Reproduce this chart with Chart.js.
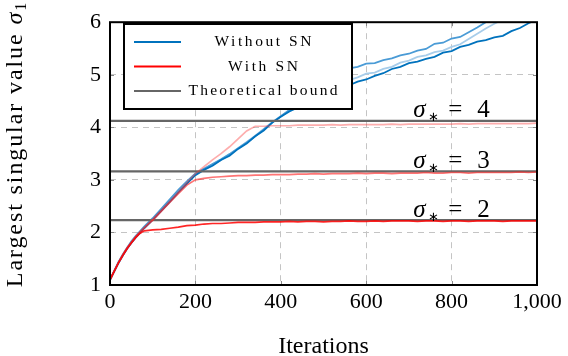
<!DOCTYPE html>
<html>
<head>
<meta charset="utf-8">
<script src="https://cdn.jsdelivr.net/npm/chart.js@4.4.1/dist/chart.umd.min.js"></script>
<style>
  html, body { margin: 0; padding: 0; background: #fff; }
  #wrap { width: 568px; height: 356px; }
</style>
</head>
<body>
<div id="wrap"><canvas id="c" width="568" height="356"></canvas></div>
<script>
const iters = [0,10,20,30,40,50,60,70,80,90,100,
  120,140,160,180,200,220,240,260,280,300,320,340,360,380,400,
  420,440,460,480,500,520,540,560,580,600,620,640,660,680,700,
  720,740,760,780,800,820,840,860,880,900,920,940,960,980,1000];

// Without SN (three runs, sigma* = 2,3,4)
const blueDark = [1.10,1.26,1.42,1.56,1.69,1.80,1.90,1.99,2.08,2.16,2.24,
  2.41,2.58,2.76,2.93,3.09,3.19,3.27,3.38,3.46,3.59,3.69,3.83,3.94,4.09,4.20,
  4.30,4.38,4.46,4.53,4.60,4.67,4.74,4.80,4.87,4.91,4.98,5.03,5.11,5.15,5.22,
  5.25,5.30,5.34,5.42,5.45,5.53,5.57,5.63,5.66,5.71,5.74,5.83,5.89,5.98,6.05];
const blueMid = [1.10,1.27,1.44,1.58,1.71,1.83,1.93,2.02,2.11,2.19,2.27,
  2.45,2.63,2.81,2.97,3.12,3.21,3.30,3.39,3.49,3.60,3.71,3.83,3.96,4.09,4.21,
  4.33,4.46,4.60,4.73,4.85,4.95,5.05,5.12,5.15,5.21,5.22,5.28,5.31,5.37,5.40,
  5.46,5.49,5.59,5.61,5.69,5.72,5.81,5.90,6.00,6.08,6.12,6.16,6.20,6.24,6.28];
const blueLight = [1.10,1.27,1.43,1.57,1.70,1.81,1.91,2.00,2.09,2.17,2.25,
  2.42,2.60,2.78,2.95,3.10,3.20,3.29,3.38,3.49,3.60,3.72,3.84,3.97,4.10,4.21,
  4.32,4.42,4.50,4.58,4.66,4.74,4.82,4.90,4.95,5.02,5.04,5.11,5.15,5.23,5.27,
  5.34,5.37,5.43,5.46,5.53,5.58,5.68,5.78,5.88,5.97,6.05,6.10,6.14,6.18,6.22];

// With SN
const red2 = [1.10,1.26,1.42,1.56,1.69,1.80,1.90,1.98,2.03,2.04,2.05,
  2.06,2.08,2.10,2.13,2.14,2.16,2.17,2.17,2.18,2.19,2.19,2.19,2.20,2.20,2.20,
  2.21,2.20,2.21,2.21,2.20,2.21,2.21,2.22,2.21,2.21,2.22,2.21,2.22,2.22,2.22,
  2.21,2.22,2.22,2.21,2.22,2.22,2.21,2.22,2.22,2.22,2.21,2.22,2.22,2.22,2.22];
const red3 = [1.10,1.27,1.43,1.57,1.70,1.81,1.91,2.00,2.08,2.16,2.23,
  2.40,2.57,2.74,2.90,3.00,3.03,3.05,3.06,3.07,3.08,3.08,3.09,3.09,3.10,3.10,
  3.10,3.11,3.11,3.12,3.11,3.12,3.12,3.12,3.13,3.12,3.13,3.13,3.12,3.13,3.13,
  3.13,3.14,3.13,3.13,3.14,3.14,3.13,3.14,3.14,3.14,3.14,3.14,3.15,3.14,3.15];
const red4 = [1.10,1.27,1.43,1.58,1.71,1.82,1.92,2.01,2.09,2.17,2.25,
  2.42,2.59,2.77,2.95,3.12,3.25,3.38,3.50,3.63,3.78,3.93,4.02,4.02,4.03,4.03,
  4.03,4.04,4.04,4.04,4.04,4.05,4.04,4.05,4.05,4.05,4.05,4.05,4.06,4.05,4.06,
  4.06,4.06,4.06,4.06,4.06,4.07,4.06,4.07,4.07,4.07,4.07,4.07,4.07,4.07,4.08];

// theoretical bounds and their labels
const sigmaStar = [2, 3, 4];
const bounds = [2.236, 3.162, 4.123];

const xTicks = [0, 200, 400, 600, 800, 1000];
const yTicks = [1, 2, 3, 4, 5, 6];

const SERIF = "'Liberation Serif', 'Times New Roman', serif";

function pts(arr) {
  return iters.map((x, i) => ({ x: x, y: arr[i] }));
}
function line(data, color, width) {
  return { data: data, borderColor: color, borderWidth: width, pointRadius: 0, tension: 0, fill: false };
}

let datasets = [
  line(pts(red2), 'rgba(255,0,0,0.85)', 1.7),
  line(pts(red3), 'rgba(255,30,30,0.62)', 1.7),
  line(pts(red4), 'rgba(250,60,60,0.42)', 1.7),
];
bounds.forEach(b => {
  datasets.push(line([{ x: 0, y: b }, { x: 1000, y: b }], '#666666', 2.2));
});
datasets.push(line(pts(blueDark), '#0072bd', 1.8));
datasets.push(line(pts(blueMid), '#4a9bd6', 1.8));
datasets.push(line(pts(blueLight), '#a8cdea', 1.8));

// frame, inner ticks, legend, annotations, y title
const decor = {
  id: 'decor',
  afterDatasetsDraw(chart) {
    const ctx = chart.ctx;
    const a = chart.chartArea;
    const xs = chart.scales.x, ys = chart.scales.y;
    ctx.save();

    // inner tick marks
    ctx.strokeStyle = '#888';
    ctx.lineWidth = 1;
    ctx.beginPath();
    xTicks.forEach(v => {
      const px = Math.round(xs.getPixelForValue(v)) + 0.5;
      ctx.moveTo(px, a.bottom); ctx.lineTo(px, a.bottom - 4);
      ctx.moveTo(px, a.top); ctx.lineTo(px, a.top + 4);
    });
    yTicks.forEach(v => {
      const py = Math.round(ys.getPixelForValue(v)) + 0.5;
      ctx.moveTo(a.left, py); ctx.lineTo(a.left + 4, py);
      ctx.moveTo(a.right, py); ctx.lineTo(a.right - 4, py);
    });
    ctx.stroke();

    // frame
    ctx.strokeStyle = '#000';
    ctx.lineWidth = 2;
    ctx.strokeRect(a.left, a.top, a.right - a.left, a.bottom - a.top);

    // sigma* labels
    ctx.fillStyle = '#000';
    ctx.textBaseline = 'alphabetic';
    ctx.textAlign = 'left';
    sigmaStar.forEach((s, i) => {
      const x0 = xs.getPixelForValue(710);
      const y0 = ys.getPixelForValue(bounds[i]) - 3.5;
      ctx.font = 'italic 25px ' + SERIF;
      ctx.fillText('σ', x0, y0);
      ctx.font = '13px ' + SERIF;
      ctx.fillText('∗', x0 + 15, y0 + 4);
      ctx.font = '25px ' + SERIF;
      ctx.fillText('=', x0 + 35, y0);
      ctx.fillText(String(s), x0 + 64, y0);
    });

    // legend
    const lx = 124, ly = 24, lw = 228, lh = 85;
    ctx.fillStyle = '#fff';
    ctx.fillRect(lx, ly, lw, lh);
    ctx.strokeStyle = '#000';
    ctx.lineWidth = 2;
    ctx.strokeRect(lx, ly, lw, lh);
    const items = [
      ['Without SN', '#0072bd', 97],
      ['With SN', '#ff0000', 70],
      ['Theoretical bound', '#666666', 149],
    ];
    items.forEach((it, i) => {
      const y = 42 + i * 24.5;
      ctx.strokeStyle = it[1];
      ctx.lineWidth = 2.2;
      ctx.beginPath();
      ctx.moveTo(134, y); ctx.lineTo(181, y);
      ctx.stroke();
      ctx.font = '15.5px ' + SERIF;
      ctx.letterSpacing = '0px';
      const w = ctx.measureText(it[0]).width;
      const sp = Math.max(0, (it[2] - w) / (it[0].length - 1));
      ctx.letterSpacing = sp + 'px';
      ctx.fillStyle = '#000';
      ctx.textAlign = 'left';
      ctx.fillText(it[0], 263 - it[2] / 2, y + 4);
    });
    ctx.letterSpacing = '0px';

    // y axis title
    ctx.translate(22, 144);
    ctx.rotate(-Math.PI / 2);
    const p1 = 'Largest singular value ';
    ctx.font = '24px ' + SERIF;
    ctx.letterSpacing = '1.9px';
    const w1 = ctx.measureText(p1).width;
    ctx.font = 'italic 24px ' + SERIF;
    const w2 = ctx.measureText('σ').width;
    const total = w1 + w2 + 10;
    let x = -total / 2;
    ctx.fillStyle = '#000';
    ctx.font = '24px ' + SERIF;
    ctx.fillText(p1, x, 0);
    x += w1;
    ctx.font = 'italic 24px ' + SERIF;
    ctx.fillText('σ', x, 0);
    x += w2;
    ctx.font = '16px ' + SERIF;
    ctx.fillText('1', x, 4);
    ctx.restore();
  }
};

new Chart(document.getElementById('c'), {
  type: 'line',
  data: { datasets: datasets },
  options: {
    responsive: false,
    animation: false,
    events: [],
    layout: { padding: { top: 15, right: 31, left: 0, bottom: 0 } },
    plugins: { legend: { display: false }, tooltip: { enabled: false } },
    scales: {
      x: {
        type: 'linear', min: 0, max: 1000,
        afterBuildTicks: s => { s.ticks = xTicks.map(v => ({ value: v })); },
        afterFit: s => { s.height = 71; },
        grid: { color: '#c4c4c4', lineWidth: 1, drawTicks: false },
        border: { display: false, dash: [6, 5] },
        ticks: { color: '#000', font: { family: SERIF, size: 22 }, padding: 4, maxRotation: 0 },
        title: { display: true, text: 'Iterations', color: '#000', font: { family: SERIF, size: 24 }, padding: { top: 0, bottom: -5 } }
      },
      y: {
        type: 'linear', min: 1, max: 6,
        afterBuildTicks: s => { s.ticks = yTicks.map(v => ({ value: v })); },
        afterFit: s => { s.width = 110; },
        grid: { color: '#c4c4c4', lineWidth: 1, drawTicks: false },
        border: { display: false, dash: [6, 5] },
        ticks: { color: '#000', font: { family: SERIF, size: 22 }, padding: 9 }
      }
    }
  },
  plugins: [decor]
});
</script>
</body>
</html>
